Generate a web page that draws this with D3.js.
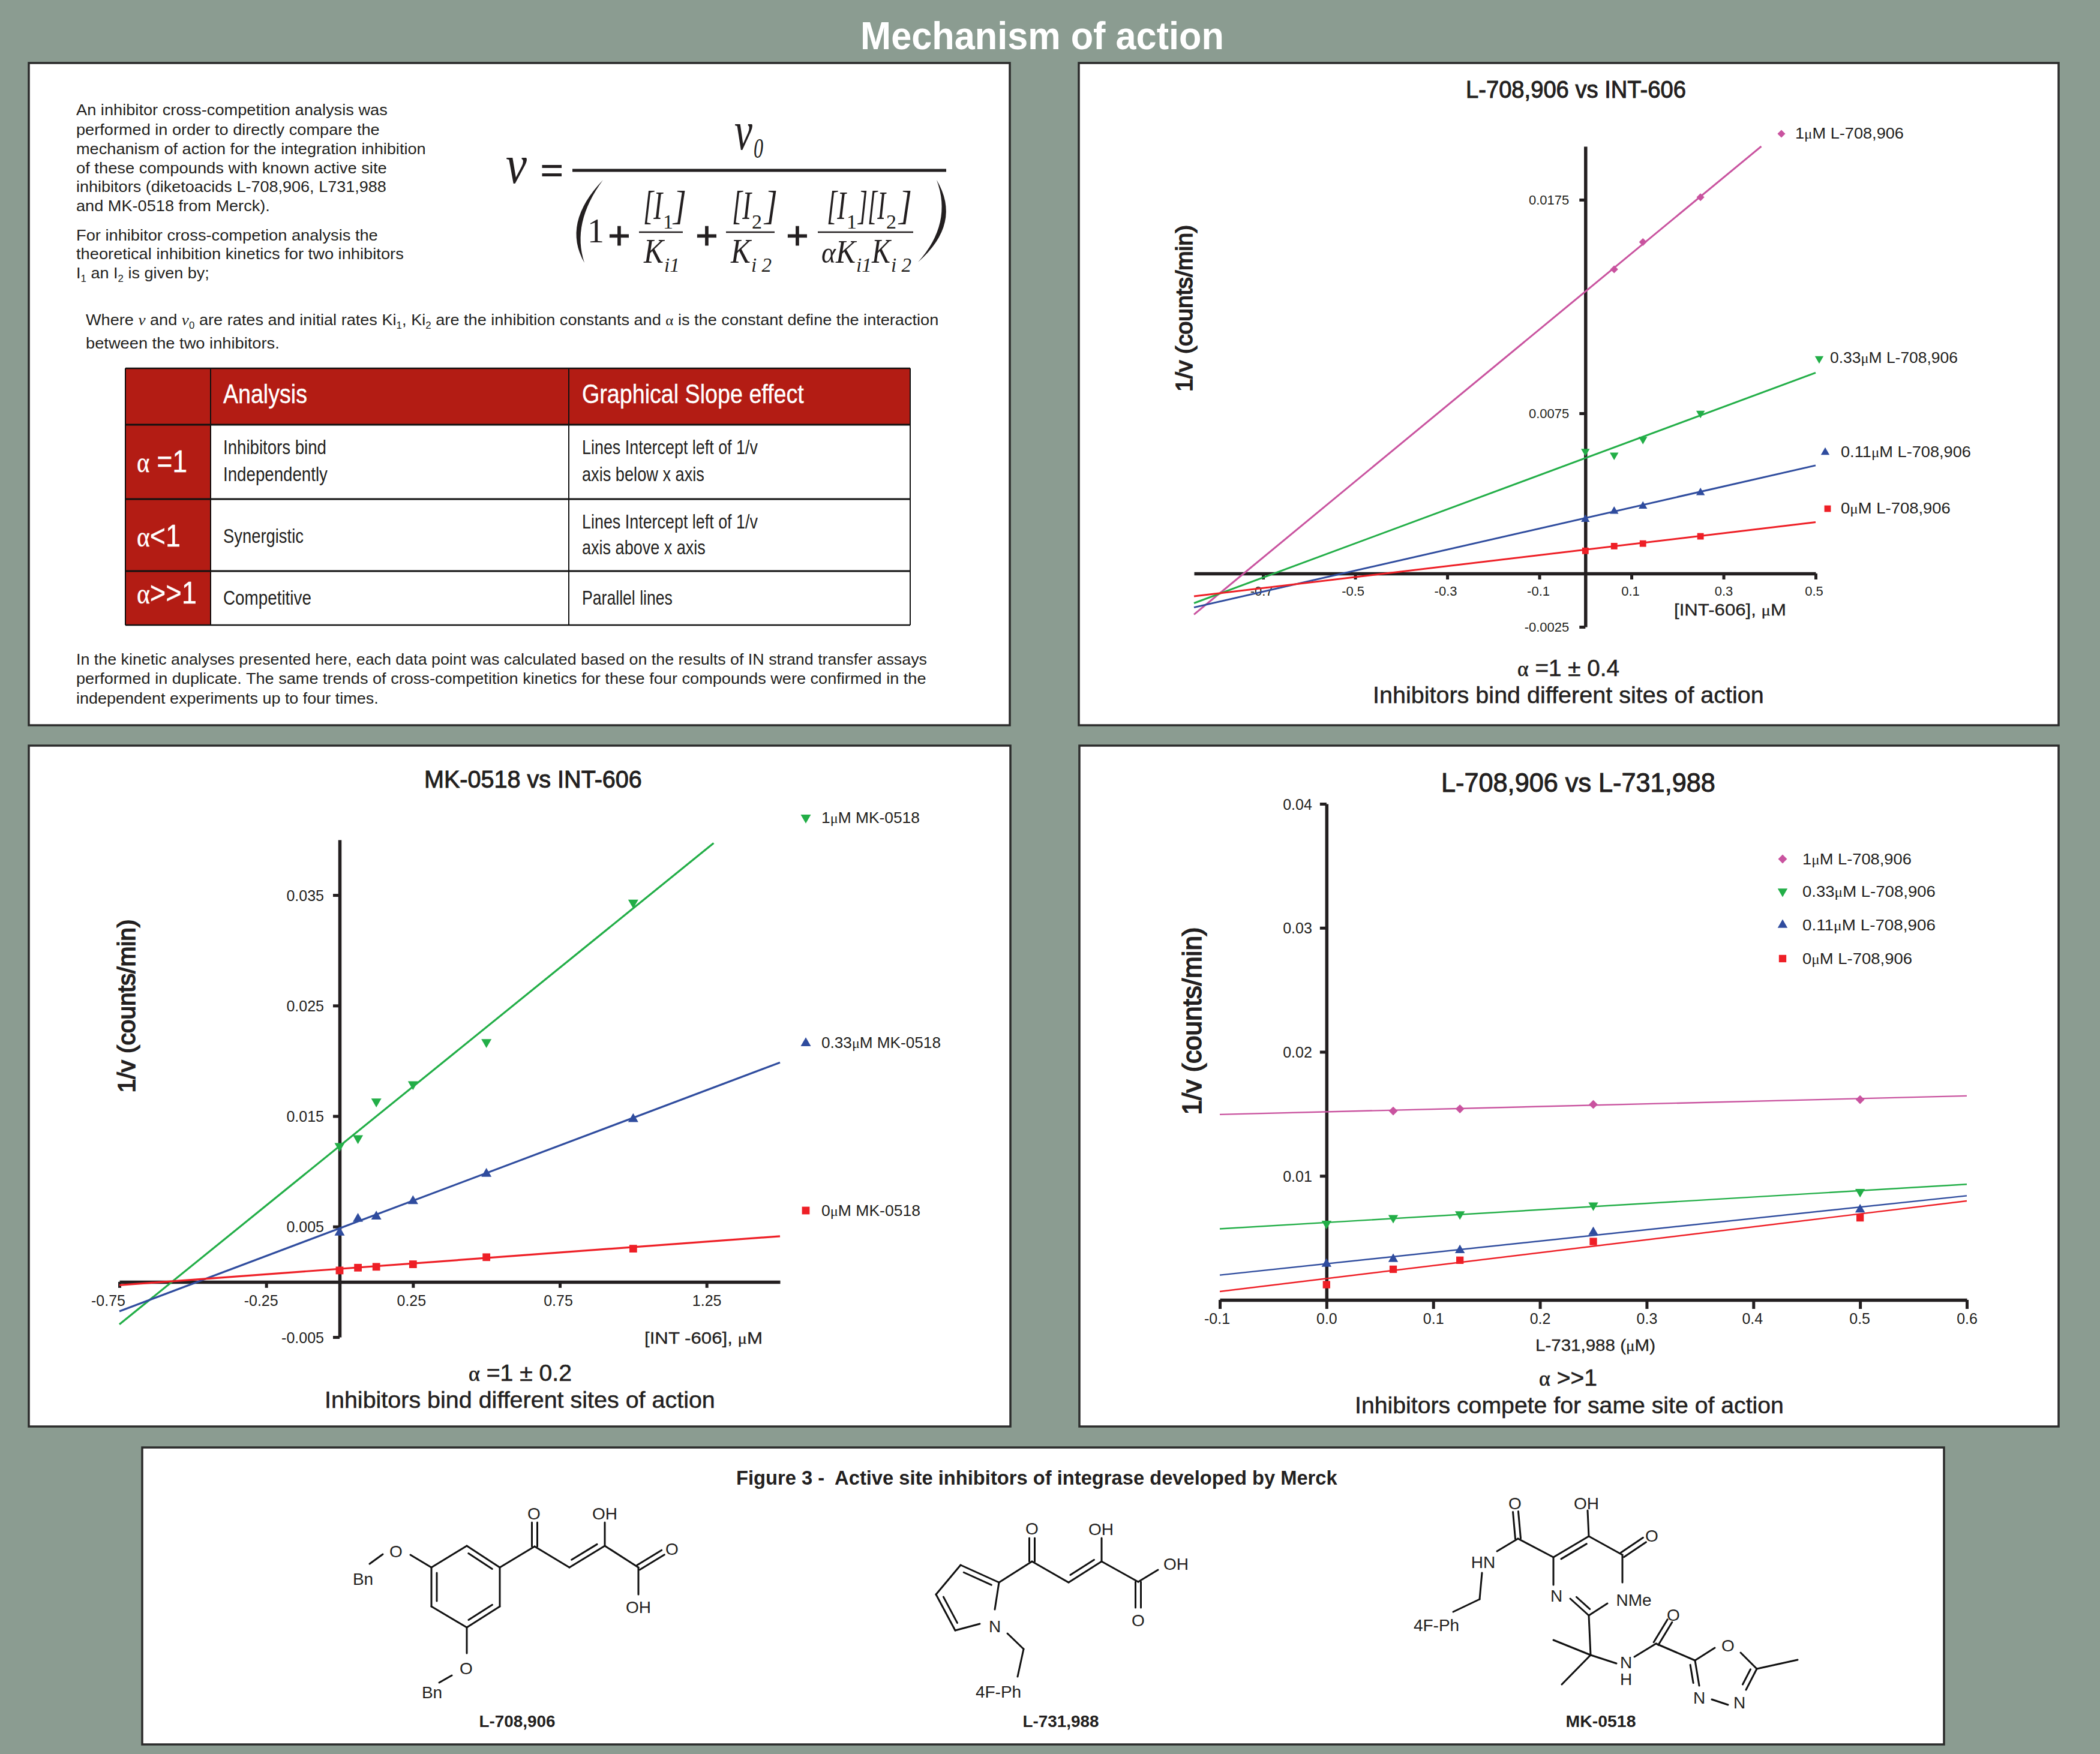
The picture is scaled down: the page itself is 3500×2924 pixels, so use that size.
<!DOCTYPE html>
<html><head><meta charset="utf-8">
<style>html,body{margin:0;padding:0;background:#8b9c91}svg{display:block}text{font-family:"Liberation Sans",Arial,sans-serif;white-space:pre}</style>
<script src="https://cdn.jsdelivr.net/npm/d3@7/dist/d3.min.js"></script>
</head><body><svg id="c" width="3500" height="2924"></svg>
<script>
// ---------- DATA ----------
const concL708 = ["1μM L-708,906","0.33μM L-708,906","0.11μM L-708,906","0μM L-708,906"];
const concMK = ["1μM MK-0518","0.33μM MK-0518","0μM MK-0518"];

// Chart A: L-708,906 vs INT-606
const aXTicks = [-0.7,-0.5,-0.3,-0.1,0.1,0.3,0.5];
const aYTicks = [0.0175,0.0075,-0.0025];
const aPinkX = [0.0625,0.125,0.25];
const aPinkY = [0.01424,0.01552,0.01762];
const aPinkFit = [[-0.85,-0.00192],[0.382,0.02]];
const aX = [0,0.0625,0.125,0.25];
const aGreenY = [0.00572,0.00554,0.00628,0.0075];
const aGreenFit = [[-0.85,-0.00139],[0.5,0.0094]];
const aBlueY = [0.00253,0.00291,0.00315,0.00378];
const aBlueFit = [[-0.85,-0.00159],[0.5,0.00506]];
const aRedY = [0.00106,0.00128,0.0014,0.00174];
const aRedFit = [[-0.85,-0.00107],[0.5,0.0024]];

// Chart B: MK-0518 vs INT-606
const bXTicks = [-0.75,-0.25,0.25,0.75,1.25];
const bYTicks = [0.035,0.025,0.015,0.005,-0.005];
const bX = [0,0.0625,0.125,0.25,0.5,1];
const bGreenY = [0.0123,0.013,0.01633,0.01788,0.0217,0.03432];
const bGreenFit = [[-0.75,-0.00385],[1.274,0.0397]];
const bBlueY = [0.00446,0.0057,0.0059,0.0073,0.00978,0.01473];
const bBlueFit = [[-0.75,-0.00266],[1.5,0.01985]];
const bRedY = [0.00103,0.00128,0.00136,0.00159,0.00223,0.003];
const bRedFit = [[-0.75,-0.0003],[1.5,0.00413]];

// Chart C: L-708,906 vs L-731,988
const cXTicks = [-0.1,0,0.1,0.2,0.3,0.4,0.5,0.6];
const cYTicks = [0.04,0.03,0.02,0.01];
const cPinkX = [0.0625,0.125,0.25,0.5];
const cPinkY = [0.01523,0.0154,0.01576,0.01615];
const cPinkFit = [[-0.1,0.01495],[0.6,0.01645]];
const cX = [0,0.0625,0.125,0.25,0.5];
const cGreenY = [0.00615,0.00662,0.00692,0.00763,0.00872];
const cGreenFit = [[-0.1,0.00573],[0.6,0.00932]];
const cBlueY = [0.0029,0.00329,0.004,0.00546,0.00728];
const cBlueFit = [[-0.1,0.002],[0.6,0.0084]];
const cRedY = [0.00123,0.00247,0.0032,0.00471,0.00662];
const cRedFit = [[-0.1,0.00068],[0.6,0.00798]];

// Table text
const tableHead = ["Analysis","Graphical Slope effect"];
const tableAlpha = ["α =1","α<1","α>>1"];

// ---------- HELPERS ----------
const COL={bg:"#8b9c91",ink:"#231f20",red:"#b31c14",pink:"#c9539f",green:"#22ae47",blue:"#2f4c9e",rd:"#ee1f26"};
const svg=d3.select("#c");
svg.append("rect").attr("width",3500).attr("height",2924).attr("fill",COL.bg);

function T(g,x,y,str,o={}){
  const size=o.size||26;
  const el=g.append("text").attr("x",0).attr("y",0).attr("font-size",size)
    .attr("fill",o.fill||COL.ink).attr("text-anchor",o.anchor||"start");
  if(o.family) el.style("font-family",o.family);
  if(o.weight) el.attr("font-weight",o.weight);
  if(o.italic) el.attr("font-style","italic");
  if(o.stroke) el.attr("stroke",o.fill||COL.ink).attr("stroke-width",o.stroke);
  const parts=str.split(/(_\{.*?\}|\*\{.*?\}|[μα])/).filter(s=>s!=="");
  parts.forEach(p=>{
    if(p.startsWith("_{")){
      el.append("tspan").text(p.slice(2,-1)).attr("dy",size*0.22).attr("font-size",size*0.62);
      el.append("tspan").text("\u200a").attr("dy",-size*0.22).attr("font-size",1);
    } else if(p.startsWith("*{")){
      el.append("tspan").text(p.slice(2,-1)).attr("font-style","italic").style("font-family","Liberation Serif");
    } else if(p==="μ"||p==="α"){
      el.append("tspan").text(p).style("font-family","Liberation Serif").attr("font-size",size*0.92);
    } else el.append("tspan").text(p);
  });
  let sx=1;
  if(o.w){ const len=el.node().getComputedTextLength(); if(len>0) sx=o.w/len; }
  el.attr("transform",`translate(${x},${y})`+(o.rot!==undefined?` rotate(${o.rot})`:"")+` scale(${sx},1)`);
  return el;
}
const sym={diamond:d3.symbolSquare,up:d3.symbolTriangle,down:d3.symbolTriangle,square:d3.symbolSquare};
function marker(g,kind,x,y,fill,scale){
  const areas={diamond:95,up:100,down:100,square:130};
  g.append("path").attr("d",d3.symbol(sym[kind],areas[kind]*scale*scale)())
   .attr("fill",fill)
   .attr("transform",`translate(${x},${y})`+(kind==="down"?" rotate(180)":"")+(kind==="diamond"?" rotate(45)":""));
}
function panel(x,y,w,h){
  svg.append("rect").attr("x",x).attr("y",y).attr("width",w).attr("height",h)
    .attr("fill","#fff").attr("stroke","#2b2b2b").attr("stroke-width",3.5);
}

panel(48,105,1635,1104);
panel(1798,105,1633,1104);
panel(48,1243,1636,1135);
panel(1799,1243,1632,1135);
panel(237,2413,3003,495);

T(svg,1737,82,"Mechanism of action",{size:64,weight:"bold",fill:"#fff",anchor:"middle",w:606});

// ---------- CHARTS ----------
function chart(c){
  const g=svg.append("g");
  const x=d3.scaleLinear().domain(c.xDomain).range(c.xRange);
  const y=d3.scaleLinear().domain(c.yDomain).range(c.yRange);
  const xAxis=d3.axisBottom(x).tickValues(c.xTicks).tickSize(c.xTickLen).tickSizeOuter(0).tickFormat((d,i)=>c.xLabels[i]);
  const yAxis=d3.axisLeft(y).tickValues(c.yTicks).tickSize(c.yTickLen).tickSizeOuter(0).tickFormat((d,i)=>c.yLabels[i]);
  const gx=g.append("g").attr("transform",`translate(0,${y(0)})`).call(xAxis);
  const gy=g.append("g").attr("transform",`translate(${x(0)},0)`).call(yAxis);
  [gx,gy].forEach(a=>{
    a.select(".domain").attr("stroke",COL.ink).attr("stroke-width",5.5);
    a.selectAll(".tick line").attr("stroke",COL.ink).attr("stroke-width",5);
    a.selectAll("text").attr("fill",COL.ink).attr("font-size",c.tickSize).style("font-family","Liberation Sans");
  });
  gx.selectAll(".tick text").attr("y",c.xLabelBase).attr("dy",0).attr("dx",(d,i)=>c.xLabelShift[i]);
  gy.selectAll(".tick text").attr("x",c.yLabelX).attr("dy",c.tickSize*0.36);
  const ln=d3.line().x(d=>x(d[0])).y(d=>y(d[1]));
  c.series.forEach(s=>{
    g.append("path").datum(s.fit).attr("d",ln).attr("fill","none").attr("stroke",s.color).attr("stroke-width",c.lineW);
  });
  c.series.forEach(s=>{
    s.x.forEach((vx,i)=>marker(g,s.kind,x(vx),y(s.y[i]),s.color,c.markScale));
  });
  c.legend.forEach(l=>{
    marker(g,l.kind,l.mx,l.my,l.color,c.markScale);
    T(g,l.tx,l.ty,l.label,{size:c.legendSize,w:l.w});
  });
  c.texts.forEach(t=>T(g,t[0],t[1],t[2],t[3]));
}
const ylab=(x,y,w,s)=>[x,y,"1/v (counts/min)",{size:s,rot:-90,anchor:"middle",w:w,stroke:1.6}];

chart({
  xDomain:[-0.85,0.5],xRange:[1990,3026],yDomain:[-0.0025,0.02],yRange:[1045,244],
  xTicks:aXTicks,yTicks:aYTicks,xLabels:["-0.7","-0.5","-0.3","-0.1","0.1","0.3","0.5"],
  yLabels:["0.0175","0.0075","-0.0025"],xTickLen:10,yTickLen:10,tickSize:22,
  xLabelBase:37,xLabelShift:[-3,-4,-3,-2,-2,0,-3],yLabelX:-27,lineW:3,markScale:0.95,legendSize:26,
  series:[
   {kind:"diamond",color:COL.pink,x:aPinkX,y:aPinkY,fit:aPinkFit},
   {kind:"down",color:COL.green,x:aX,y:aGreenY,fit:aGreenFit},
   {kind:"up",color:COL.blue,x:aX,y:aBlueY,fit:aBlueFit},
   {kind:"square",color:COL.rd,x:aX,y:aRedY,fit:aRedFit}],
  legend:[
   {kind:"diamond",color:COL.pink,mx:2969,my:223,tx:2992,ty:231,label:concL708[0],w:181},
   {kind:"down",color:COL.green,mx:3032,my:598,tx:3050,ty:605,label:concL708[1],w:213},
   {kind:"up",color:COL.blue,mx:3042,my:754,tx:3068,ty:762,label:concL708[2],w:217},
   {kind:"square",color:COL.rd,mx:3046,my:848,tx:3068,ty:856,label:concL708[3],w:183}],
  texts:[
   [2443,163,"L-708,906 vs INT-606",{size:40,w:367,stroke:1}],
   ylab(1987,514,278,38),
   [2790,1026,"[INT-606], μM",{size:28,w:187,stroke:0.3}],
   [2529,1127,"α =1 ± 0.4",{size:38,w:170,stroke:0.6}],
   [2288,1172,"Inhibitors bind different sites of action",{size:38,w:652,stroke:0.5}]]
});

chart({
  xDomain:[-0.75,1.5],xRange:[199,1300],yDomain:[-0.005,0.04],yRange:[2229,1400],
  xTicks:bXTicks,yTicks:bYTicks,xLabels:["-0.75","-0.25","0.25","0.75","1.25"],
  yLabels:["0.035","0.025","0.015","0.005","-0.005"],xTickLen:10,yTickLen:11,tickSize:25,
  xLabelBase:40,xLabelShift:[-19,-9,-3,-3,0],yLabelX:-26,lineW:3.2,markScale:1.12,legendSize:25,
  series:[
   {kind:"down",color:COL.green,x:bX,y:bGreenY,fit:bGreenFit},
   {kind:"up",color:COL.blue,x:bX,y:bBlueY,fit:bBlueFit},
   {kind:"square",color:COL.rd,x:bX,y:bRedY,fit:bRedFit}],
  legend:[
   {kind:"down",color:COL.green,mx:1343,my:1363,tx:1369,ty:1372,label:concMK[0],w:164},
   {kind:"up",color:COL.blue,mx:1343,my:1739,tx:1369,ty:1747,label:concMK[1],w:199},
   {kind:"square",color:COL.rd,mx:1343,my:2018,tx:1369,ty:2027,label:concMK[2],w:165}],
  texts:[
   [707,1313,"MK-0518 vs INT-606",{size:41,w:363,stroke:1}],
   ylab(225,1677,289,40),
   [1074,2240,"[INT -606], μM",{size:28,w:197,stroke:0.3}],
   [781,2302,"α =1 ± 0.2",{size:38,w:172,stroke:0.6}],
   [541,2347,"Inhibitors bind different sites of action",{size:38,w:651,stroke:0.5}]]
});

chart({
  xDomain:[-0.1,0.6],xRange:[2033,3278],yDomain:[0,0.04],yRange:[2167,1340],
  xTicks:cXTicks,yTicks:cYTicks,xLabels:["-0.1","0.0","0.1","0.2","0.3","0.4","0.5","0.6"],
  yLabels:["0.04","0.03","0.02","0.01"],xTickLen:15,yTickLen:11,tickSize:25,
  xLabelBase:40,xLabelShift:[-5,0,0,0,0,-2,-1,0],yLabelX:-24,lineW:2.4,markScale:1.08,legendSize:25,
  series:[
   {kind:"diamond",color:COL.pink,x:cPinkX,y:cPinkY,fit:cPinkFit},
   {kind:"down",color:COL.green,x:cX,y:cGreenY,fit:cGreenFit},
   {kind:"up",color:COL.blue,x:cX,y:cBlueY,fit:cBlueFit},
   {kind:"square",color:COL.rd,x:cX,y:cRedY,fit:cRedFit}],
  legend:[
   {kind:"diamond",color:COL.pink,mx:2971,my:1432,tx:3004,ty:1441,label:concL708[0],w:182},
   {kind:"down",color:COL.green,mx:2971,my:1486,tx:3004,ty:1495,label:concL708[1],w:222},
   {kind:"up",color:COL.blue,mx:2971,my:1542,tx:3004,ty:1551,label:concL708[2],w:222},
   {kind:"square",color:COL.rd,mx:2971,my:1598,tx:3004,ty:1607,label:concL708[3],w:183}],
  texts:[
   [2402,1320,"L-708,906 vs L-731,988",{size:45,w:457,stroke:1}],
   ylab(2002,1702,313,44),
   [2559,2252,"L-731,988 (μM)",{size:28,w:200,stroke:0.3}],
   [2565,2310,"α >>1",{size:38,w:97,stroke:0.6}],
   [2258,2356,"Inhibitors compete for same site of action",{size:38,w:715,stroke:0.5}]]
});

// ---------- LEFT TEXT PANEL ----------
const intro=[
 [127,192,"An inhibitor cross-competition analysis was",519],
 [127,225,"performed in order to directly compare the",506],
 [127,257,"mechanism of action for the integration inhibition",583],
 [127,289,"of these compounds with known active site",518],
 [127,320,"inhibitors (diketoacids L-708,906, L731,988",517],
 [127,352,"and MK-0518 from Merck).",323],
 [127,401,"For inhibitor cross-competion analysis the",503],
 [127,432,"theoretical inhibition kinetics for two inhibitors",546],
 [127,464,"I_{1} an I_{2} is given by;",222],
 [143,542,"Where *{v} and *{v}_{0} are rates and initial rates Ki_{1}, Ki_{2} are the inhibition constants and α is the constant define the interaction",1422],
 [143,581,"between the two inhibitors.",323],
 [127,1108,"In the kinetic analyses presented here, each data point was calculated based on the results of IN strand transfer assays",1419],
 [127,1140,"performed in duplicate. The same trends of cross-competition kinetics for these four compounds were confirmed in the",1417],
 [127,1173,"independent experiments up to four times.",504]];
intro.forEach(d=>T(svg,d[0],d[1],d[2],{size:26,w:d[3]}));

// Equation
const eq=svg.append("g"), SER="Liberation Serif";
const ei={size:92,italic:true,family:SER};
T(eq,843,305,"v",{...ei,w:35});
T(eq,1224,249,"v",{...ei,w:30});
T(eq,1256,263,"0",{size:46,italic:true,family:SER,w:16});
T(eq,920,308,"=",{size:70,anchor:"middle",weight:"bold",family:SER});
eq.append("line").attr("x1",954).attr("x2",1577).attr("y1",284).attr("y2",284).attr("stroke",COL.ink).attr("stroke-width",5);
function crescent(a,b,c,w){
  const p=d3.path();p.moveTo(a[0],a[1]);p.quadraticCurveTo(b[0],b[1],c[0],c[1]);p.quadraticCurveTo(b[0]+w,b[1],a[0],a[1]);p.closePath();
  eq.append("path").attr("d",p.toString()).attr("fill",COL.ink);
}
crescent([1005,300],[936,372],[974,438],16);
crescent([1561,300],[1604,372],[1530,437],-16);
T(eq,993,404,"1",{size:56,anchor:"middle",family:SER});
[1032,1178,1329].forEach(px=>T(eq,px,415,"+",{size:64,anchor:"middle",stroke:1}));
[[1065,1138],[1210,1291],[1363,1522]].forEach(b=>eq.append("line").attr("x1",b[0]).attr("x2",b[1]).attr("y1",387).attr("y2",387).attr("stroke",COL.ink).attr("stroke-width",2.5));
const brk={size:68,italic:true,family:SER};
const K={size:56,italic:true,family:SER}, ksub={size:33,italic:true,family:SER}, nsub={size:34,family:SER};
T(eq,1072,365,"[I",{...brk,w:32}); T(eq,1105,381,"1",nsub); T(eq,1122,365,"]",{...brk,w:22});
T(eq,1220,365,"[I",{...brk,w:32}); T(eq,1253,381,"2",nsub); T(eq,1274,365,"]",{...brk,w:22});
T(eq,1378,365,"[I",{...brk,w:32}); T(eq,1411,381,"1",nsub); T(eq,1430,365,"][I",{...brk,w:46}); T(eq,1477,381,"2",nsub); T(eq,1498,365,"]",{...brk,w:22});
T(eq,1073,438,"K",{...K,w:33}); T(eq,1107,453,"i1",ksub);
T(eq,1218,438,"K",{...K,w:33}); T(eq,1252,453,"i 2",ksub);
T(eq,1369,438,"αK",{...K,w:57}); T(eq,1427,453,"i1",ksub);
T(eq,1453,438,"K",{...K,w:31}); T(eq,1485,453,"i 2",ksub);

// Table
const tb=svg.append("g");
const colX=[209,351,948,1517], rowY=[614,708,832,952,1042];
tb.append("rect").attr("x",colX[0]).attr("y",rowY[0]).attr("width",colX[3]-colX[0]).attr("height",rowY[1]-rowY[0]).attr("fill",COL.red);
tb.append("rect").attr("x",colX[0]).attr("y",rowY[1]).attr("width",colX[1]-colX[0]).attr("height",rowY[4]-rowY[1]).attr("fill",COL.red);
rowY.forEach((y,i)=>tb.append("line").attr("x1",colX[0]).attr("x2",colX[3]).attr("y1",y).attr("y2",y).attr("stroke","#111").attr("stroke-width",i==0||i==4?2.5:3));
colX.forEach(x=>tb.append("line").attr("x1",x).attr("x2",x).attr("y1",rowY[0]).attr("y2",rowY[4]).attr("stroke","#111").attr("stroke-width",2));
const w={fill:"#fff",size:44,stroke:0.4};
T(tb,372,672,tableHead[0],{...w,w:140});
T(tb,970,672,tableHead[1],{...w,w:370});
T(tb,228,787,tableAlpha[0],{...w,size:52,w:84});
T(tb,228,911,tableAlpha[1],{...w,size:52,w:73});
T(tb,228,1006,tableAlpha[2],{...w,size:52,w:100});
const cells=[[372,757,"Inhibitors bind",172],[372,802,"Independently",174],[372,905,"Synergistic",134],[372,1008,"Competitive",147],
 [970,757,"Lines Intercept left of 1/v",293],[970,802,"axis below x axis",204],[970,881,"Lines Intercept left of 1/v",293],[970,924,"axis above x axis",206],[970,1008,"Parallel lines",151]];
cells.forEach(d=>T(tb,d[0],d[1],d[2],{size:33,w:d[3]}));

// ---------- MOLECULES ----------
T(svg,1227,2475,"Figure 3 -  Active site inhibitors of integrase developed by Merck",{size:33,weight:"bold",w:1002});
const mol=svg.append("g");
const bonds708=[[778,2577,833,2613,1],[833,2613,833,2678],[833,2678,778,2713,1],[778,2713,719,2678],[719,2678,719,2613,1],[719,2613,778,2577],
 [833,2613,891,2578],[891,2578,891,2538,"c"],[891,2578,949,2613],[949,2613,1008,2577,-1],[1008,2577,1008,2538],[1008,2577,1064,2613],[1064,2613,1105,2588,"c"],[1064,2613,1064,2658],
 [719,2613,684,2592],[638,2591,616,2607],[778,2713,778,2756],[753,2793,732,2805]];
const labels708=[["O",890,2533],["OH",1008,2533],["O",1120,2592],["OH",1064,2689],["O",660,2596],["Bn",605,2642],["O",777,2791],["Bn",720,2831]];
const bonds731=[[1665,2638,1601,2609,-1],[1601,2609,1560,2658],[1560,2658,1592,2718,-1],[1592,2718,1633,2707],[1665,2638,1658,2683],[1679,2723,1706,2749],[1706,2749,1696,2795],
 [1665,2638,1720,2603],[1720,2603,1720,2564,"c"],[1720,2603,1781,2638],[1781,2638,1836,2603,-1],[1836,2603,1836,2564],[1836,2603,1897,2637],[1897,2637,1897,2680,"c"],[1897,2637,1930,2617]];
const labels731=[["N",1658,2721],["4F-Ph",1664,2830],["O",1720,2558],["OH",1835,2559],["O",1897,2711],["OH",1960,2617]];
const bondsMK=[[2530,2565,2526,2520,"c"],[2530,2565,2495,2586],[2470,2622,2466,2666],[2466,2666,2422,2687],[2530,2565,2589,2596],[2589,2596,2648,2561,1],[2648,2561,2646,2518],[2648,2561,2704,2592],[2704,2592,2741,2567,"c"],[2704,2592,2704,2638],[2589,2596,2589,2642],
 [2617,2665,2648,2693,-1],[2648,2693,2679,2673],[2648,2693,2651,2759],[2651,2759,2589,2734],[2651,2759,2603,2808],[2651,2759,2694,2773],[2724,2762,2760,2740],[2760,2740,2783,2702,"c"],[2760,2740,2825,2768],[2825,2768,2858,2747],[2901,2755,2928,2782],[2928,2782,2996,2767],[2928,2782,2910,2817,1],[2825,2768,2832,2810,1],[2853,2833,2880,2842]];
const labelsMK=[["O",2525,2516],["HN",2472,2614],["4F-Ph",2394,2719],["OH",2644,2516],["O",2753,2570],["N",2594,2670],["NMe",2723,2677],["O",2789,2702],["N",2710,2781],["H",2710,2809],["O",2880,2753],["N",2899,2848],["N",2832,2840]];
function drawBonds(list){
  list.forEach(b=>{
    const [x1,y1,x2,y2,t]=b, dx=x2-x1, dy=y2-y1, L=Math.hypot(dx,dy), nx=-dy/L, ny=dx/L;
    const seg=(a,b2,c,d)=>mol.append("line").attr("x1",a).attr("y1",b2).attr("x2",c).attr("y2",d).attr("stroke","#111").attr("stroke-width",3).attr("stroke-linecap","round");
    if(t==="c"){ seg(x1+nx*4.5,y1+ny*4.5,x2+nx*4.5,y2+ny*4.5); seg(x1-nx*4.5,y1-ny*4.5,x2-nx*4.5,y2-ny*4.5); }
    else { seg(x1,y1,x2,y2);
      if(t){ const o=9*t,s=0.14; seg(x1+dx*s+nx*o,y1+dy*s+ny*o,x2-dx*s+nx*o,y2-dy*s+ny*o); } }
  });
}
function drawLabels(list){ list.forEach(l=>T(mol,l[1],l[2],l[0],{size:28,anchor:"middle"})); }
[bonds708,bonds731,bondsMK].forEach(drawBonds);
[labels708,labels731,labelsMK].forEach(drawLabels);
T(mol,862,2879,"L-708,906",{size:28,anchor:"middle",weight:"bold",w:127});
T(mol,1768,2879,"L-731,988",{size:28,anchor:"middle",weight:"bold",w:127});
T(mol,2668,2879,"MK-0518",{size:28,anchor:"middle",weight:"bold",w:117});
</script></body></html>
